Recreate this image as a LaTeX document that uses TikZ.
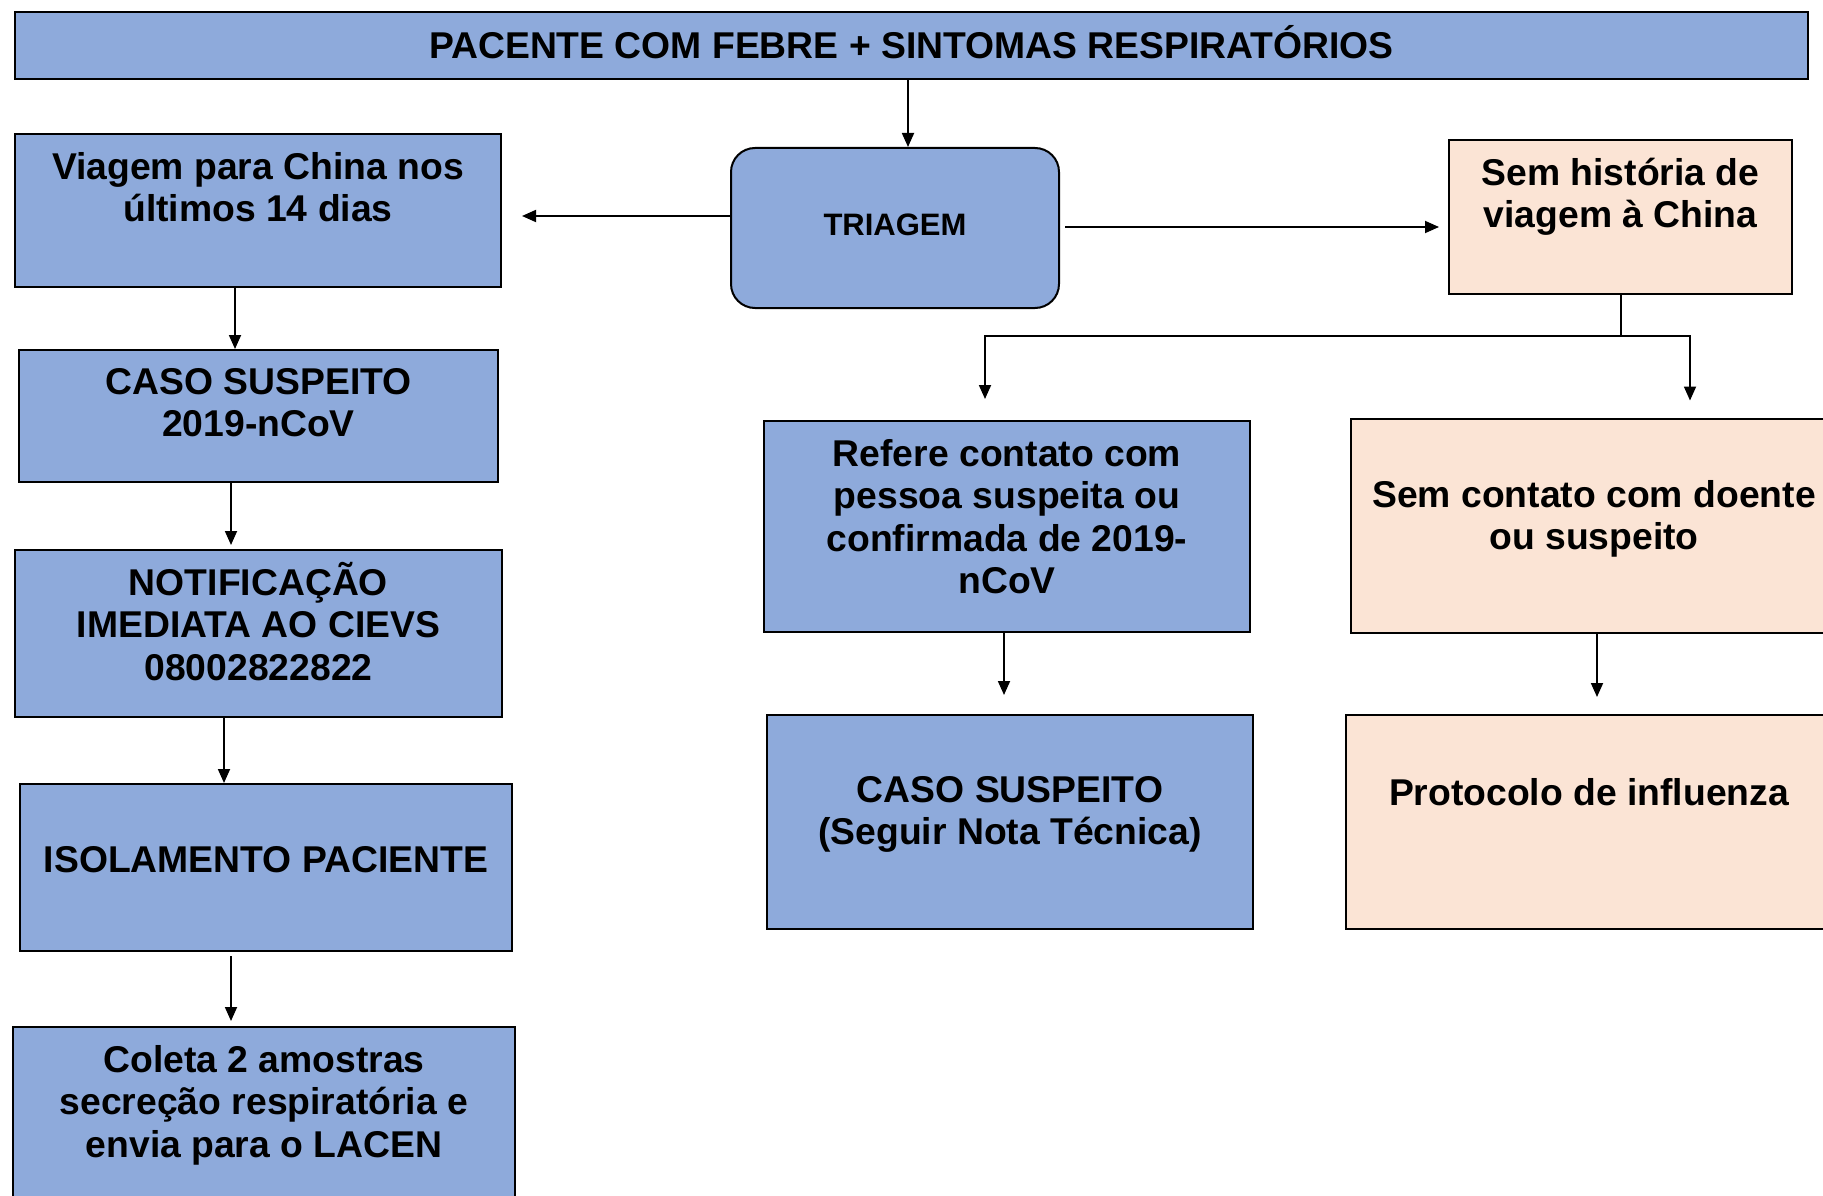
\documentclass[tikz,border=0pt]{standalone}
\usepackage{fontspec}
\setmainfont{Liberation Sans}
\usetikzlibrary{arrows.meta}
\definecolor{boxblue}{HTML}{8EAADB}
\definecolor{boxpeach}{HTML}{FBE4D5}
\newcommand{\mystrut}{\rule{0pt}{36pt}}
\begin{document}
\begin{tikzpicture}[x=1pt,y=-1pt,
  bbox/.style={draw=black, line width=2pt, fill=boxblue, inner sep=0pt, outer sep=0pt},
  pbox/.style={bbox, fill=boxpeach},
  txt/.style={inner sep=0pt, outer sep=0pt, font=\bfseries\fontsize{37.3}{42.6}\selectfont, anchor=base},
  mtxt/.style={txt, align=center, anchor=north},
  arr/.style={line width=1.8pt, -{Triangle[length=14pt,width=12pt]}},
  plain/.style={line width=1.8pt}]
\useasboundingbox (0,0) rectangle (1823,1196);
\fill[white] (0,0) rectangle (1823,1196);
% boxes
\node[bbox, line width=2.5pt, minimum width=1793pt, minimum height=67pt] (title) at (911.5,45.5) {};
\node[bbox, rounded corners=24pt, minimum width=328pt, minimum height=160pt] (triagem) at (895,228) {};
\node[bbox, minimum width=486pt, minimum height=153pt] (viagem) at (258,210.5) {};
\node[bbox, minimum width=479pt, minimum height=132pt] (caso1) at (258.5,416) {};
\node[bbox, minimum width=487pt, minimum height=167pt] (notif) at (258.5,633.5) {};
\node[bbox, minimum width=492pt, minimum height=167pt] (isol) at (266,867.5) {};
\node[bbox, minimum width=502pt, minimum height=188pt] (coleta) at (264,1121) {};
\node[pbox, minimum width=343pt, minimum height=154pt] (semhist) at (1620.5,217) {};
\node[bbox, minimum width=486pt, minimum height=211pt] (refere) at (1007,526.5) {};
\node[bbox, minimum width=486pt, minimum height=214pt] (caso2) at (1010,822) {};
\node[pbox, minimum width=486pt, minimum height=214pt] (semcont) at (1594,525.5) {};
\node[pbox, minimum width=486pt, minimum height=214pt] (protocolo) at (1589,822) {};
% texts
\node[txt] (ttitle) at (911.5,59) {PACENTE COM FEBRE + SINTOMAS RESPIRATÓRIOS};
\node[txt, font=\bfseries\fontsize{31}{36}\selectfont] (ttriagem) at (895,235) {TRIAGEM};
\node[mtxt] (tviagem) at (258,143) {\mystrut Viagem para China nos\\últimos 14 dias};
\node[mtxt] (tcaso1) at (258.5,358) {\mystrut CASO SUSPEITO\\2019-nCoV};
\node[mtxt] (tnotif) at (258.5,559) {\mystrut NOTIFICAÇÃO\\IMEDIATA AO CIEVS\\08002822822};
\node[txt] (tisol) at (266,872) {ISOLAMENTO PACIENTE};
\node[mtxt] (tcoleta) at (264,1036) {\mystrut Coleta 2 amostras\\secreção respiratória e\\envia para o LACEN};
\node[mtxt] (tsemhist) at (1620.5,149) {\mystrut Sem história de\\viagem à China};
\node[mtxt] (trefere) at (1007,430) {\mystrut Refere contato com\\pessoa suspeita ou\\confirmada de 2019-\\nCoV};
\node[mtxt] (tcaso2) at (1010,766) {\mystrut CASO SUSPEITO\\(Seguir Nota Técnica)};
\node[mtxt] (tsemcont) at (1594,471) {\mystrut Sem contato com doente\\ou suspeito};
\node[txt] (tprotocolo) at (1589,805) {Protocolo de influenza};
% connectors
\coordinate (cx1) at (908,0);
\draw[arr, shorten >=1pt] (cx1 |- title.south) -- (cx1 |- triagem.north);
\draw[arr, shorten >=21pt] (triagem.west |- 0,216) -- (viagem.east |- 0,216);
\draw[arr, shorten <=6pt, shorten >=10pt] (triagem.east |- 0,227) -- (semhist.west |- 0,227);
\coordinate (cx2) at (235,0);
\draw[arr, shorten >=1pt] (cx2 |- viagem.south) -- (cx2 |- caso1.north);
\coordinate (cx3) at (231,0);
\draw[arr, shorten <=1pt, shorten >=5pt] (cx3 |- caso1.south) -- (cx3 |- notif.north);
\coordinate (cx4) at (224,0);
\draw[arr, shorten >=1pt] (cx4 |- notif.south) -- (cx4 |- isol.north);
\draw[arr, shorten <=5pt, shorten >=6pt] (cx3 |- isol.south) -- (cx3 |- coleta.north);
\coordinate (br) at (1621,336);
\coordinate (bl) at (985,336);
\coordinate (brr) at (1690,336);
\draw[plain] (semhist.south -| br) -- (br);
\draw[plain] (bl) -- (brr);
\draw[arr, shorten >=22pt] ([yshift=0.9pt]bl) -- (bl |- refere.north);
\draw[arr, shorten >=18pt] ([yshift=0.9pt]brr) -- (brr |- semcont.north);
\coordinate (cx5) at (1004,0);
\draw[arr, shorten >=20pt] (cx5 |- refere.south) -- (cx5 |- caso2.north);
\coordinate (cx6) at (1597,0);
\draw[arr, shorten >=18pt] (cx6 |- semcont.south) -- (cx6 |- protocolo.north);
\end{tikzpicture}
\end{document}
